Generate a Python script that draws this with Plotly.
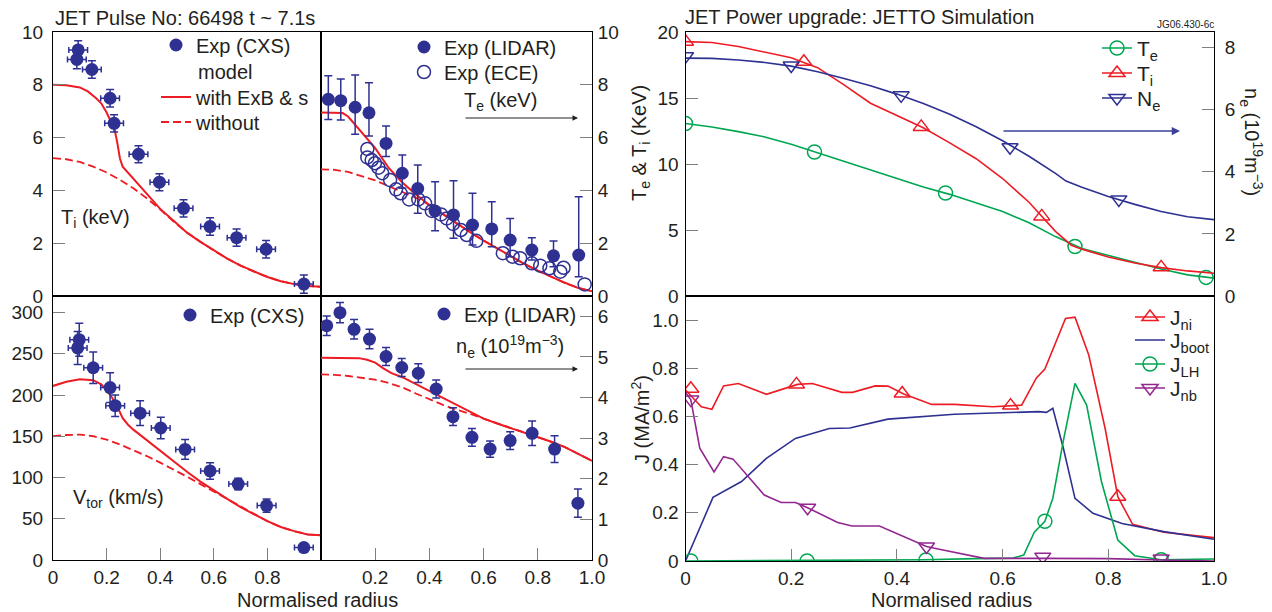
import plotly.graph_objects as go

W, H = 1272, 612
FONT = 'Liberation Sans, Arial, Helvetica, sans-serif'
INK = '#231f20'
NAVY = '#2e3192'
RED = '#ed1c24'
GREEN = '#00a651'
PURPLE = '#92278f'

# ---------------- Panel A: T_i (keV) ----------------
ti_exp_r = [0.094, 0.089, 0.145, 0.213, 0.228, 0.319, 0.397, 0.487, 0.586, 0.685, 0.795, 0.936]
ti_exp = [9.32, 8.96, 8.58, 7.49, 6.54, 5.37, 4.31, 3.32, 2.63, 2.21, 1.77, 0.45]
ti_exp_err = [0.35, 0.35, 0.33, 0.33, 0.33, 0.32, 0.32, 0.33, 0.33, 0.33, 0.33, 0.35]
ti_exp_rerr = [0.035, 0.035, 0.035, 0.035, 0.035, 0.035, 0.035, 0.035, 0.035, 0.035, 0.035, 0.035]

ti_model_r = [0, 0.05, 0.1, 0.13, 0.16, 0.18, 0.2, 0.215, 0.23, 0.24, 0.25, 0.26, 0.3, 0.35, 0.4,
              0.45, 0.5, 0.55, 0.6, 0.65, 0.7, 0.75, 0.8, 0.85, 0.9, 0.95, 1.0]
ti_with = [8.0, 7.98, 7.9, 7.75, 7.5, 7.3, 6.95, 6.65, 6.3, 5.8, 5.2, 4.9, 4.45, 3.85, 3.3,
           2.85, 2.4, 2.05, 1.72, 1.42, 1.15, 0.92, 0.72, 0.56, 0.45, 0.38, 0.35]
ti_wo_r = [0, 0.05, 0.1, 0.15, 0.2, 0.25, 0.3, 0.35, 0.4, 0.45, 0.5, 0.55, 0.6, 0.65, 0.7,
           0.75, 0.8, 0.85, 0.9, 0.95, 1.0]
ti_without = [5.22, 5.18, 5.08, 4.9, 4.68, 4.4, 4.08, 3.7, 3.28, 2.82, 2.4, 2.05, 1.72, 1.42, 1.15,
              0.92, 0.72, 0.56, 0.45, 0.38, 0.35]

# ---------------- Panel B: T_e (keV) ----------------
te_lidar_r = [0.027, 0.073, 0.126, 0.177, 0.240, 0.300, 0.357, 0.421, 0.489, 0.559, 0.630, 0.698, 0.778, 0.858, 0.951]
te_lidar = [7.45, 7.40, 7.15, 6.94, 5.78, 4.65, 4.07, 3.22, 3.07, 2.69, 2.54, 2.12, 1.74, 1.52, 1.55]
te_lidar_up = [0.89, 0.82, 1.22, 1.14, 0.66, 0.69, 0.89, 1.11, 1.30, 1.20, 1.03, 0.82, 0.47, 0.56, 2.21]
te_lidar_dn = [0.76, 0.73, 1.02, 0.88, 0.50, 0.57, 0.94, 0.75, 0.88, 0.76, 0.67, 0.63, 0.38, 0.41, 0.82]

te_ece_r = [0.171, 0.171, 0.187, 0.199, 0.212, 0.226, 0.255, 0.277, 0.294, 0.325, 0.359, 0.384, 0.409,
            0.443, 0.464, 0.487, 0.516, 0.538, 0.573, 0.671, 0.707, 0.735, 0.778, 0.809, 0.843, 0.883,
            0.895, 0.973]
te_ece = [5.57, 5.25, 5.15, 5.03, 4.86, 4.65, 4.39, 4.04, 3.89, 3.66, 3.66, 3.51, 3.22,
          3.09, 2.94, 2.73, 2.50, 2.31, 2.09, 1.62, 1.49, 1.43, 1.24, 1.15, 1.05, 0.92,
          1.07, 0.44]

te_model_r = [0, 0.05, 0.08, 0.1, 0.15, 0.2, 0.25, 0.3, 0.35, 0.4, 0.45, 0.5, 0.55, 0.6, 0.65,
              0.7, 0.75, 0.8, 0.85, 0.9, 0.95, 1.0]
te_with = [6.95, 6.95, 6.93, 6.8, 6.22, 5.6, 4.85, 4.3, 3.85, 3.45, 3.1, 2.75, 2.42, 2.1, 1.8,
           1.5, 1.22, 0.96, 0.72, 0.5, 0.3, 0.18]
te_wo_r = [0, 0.05, 0.1, 0.15, 0.2, 0.25, 0.3, 0.35, 0.4, 0.45, 0.5, 0.55, 0.6, 0.65,
           0.7, 0.75, 0.8, 0.85, 0.9, 0.95, 1.0]
te_without = [4.8, 4.78, 4.7, 4.55, 4.38, 4.16, 3.95, 3.72, 3.45, 3.1, 2.75, 2.42, 2.1, 1.8,
              1.5, 1.22, 0.96, 0.72, 0.5, 0.3, 0.18]

# ---------------- Panel C: V_tor (km/s) ----------------
v_exp_r = [0.098, 0.092, 0.150, 0.213, 0.232, 0.325, 0.402, 0.493, 0.586, 0.691, 0.797, 0.936]
v_exp = [267, 257, 233, 209, 187, 178, 160, 134, 108, 92, 66, 15]
v_exp_err = [20, 20, 19, 18, 13, 15, 13, 12, 10, 7, 8, 3]
v_exp_rerr = [0.035, 0.035, 0.035, 0.035, 0.035, 0.035, 0.035, 0.035, 0.035, 0.035, 0.035, 0.035]

v_model_r = [0, 0.05, 0.1, 0.15, 0.18, 0.2, 0.22, 0.24, 0.26, 0.28, 0.3, 0.35, 0.4, 0.45, 0.5,
             0.55, 0.6, 0.65, 0.7, 0.75, 0.8, 0.85, 0.9, 0.95, 1.0]
v_with = [211, 216, 219, 218, 213, 206, 197, 186, 172, 164, 158, 145, 133, 120, 107,
          95, 84, 74, 64, 55, 47, 40, 35, 31, 30]
v_wo_r = [0, 0.05, 0.1, 0.15, 0.2, 0.25, 0.3, 0.35, 0.4, 0.45, 0.5, 0.55, 0.6, 0.65, 0.7,
          0.75, 0.8, 0.85, 0.9, 0.95, 1.0]
v_without = [150, 151.5, 152, 150, 146, 140, 133, 126, 118, 110, 101, 92, 83, 74, 64,
             55, 47, 40, 35, 31, 30]

# ---------------- Panel D: n_e (1e19 m^-3) ----------------
ne_lidar_r = [0.021, 0.070, 0.122, 0.179, 0.240, 0.298, 0.359, 0.425, 0.487, 0.557, 0.624, 0.698, 0.779, 0.862, 0.948]
ne_lidar = [5.77, 6.09, 5.68, 5.44, 5.01, 4.74, 4.60, 4.21, 3.53, 3.02, 2.73, 2.94, 3.12, 2.73, 1.40]
ne_lidar_err = [0.24, 0.25, 0.24, 0.24, 0.22, 0.22, 0.23, 0.22, 0.22, 0.22, 0.2, 0.22, 0.3, 0.33, 0.35]

ne_model_r = [0, 0.05, 0.1, 0.14, 0.17, 0.2, 0.23, 0.26, 0.3, 0.35, 0.4, 0.45, 0.5, 0.55, 0.6,
              0.65, 0.7, 0.75, 0.8, 0.85, 0.9, 0.95, 1.0]
ne_with = [4.98, 4.98, 4.98, 4.97, 4.93, 4.86, 4.72, 4.6, 4.5, 4.33, 4.17, 4.0, 3.82, 3.64, 3.48,
           3.36, 3.25, 3.14, 3.03, 2.91, 2.78, 2.62, 2.44]
ne_wo_r = [0, 0.05, 0.1, 0.15, 0.2, 0.25, 0.3, 0.35, 0.4, 0.45, 0.5, 0.55, 0.6,
           0.65, 0.7, 0.75, 0.8, 0.85, 0.9, 0.95, 1.0]
ne_without = [4.57, 4.56, 4.53, 4.49, 4.44, 4.36, 4.25, 4.1, 3.95, 3.82, 3.7, 3.6, 3.48,
              3.36, 3.25, 3.14, 3.03, 2.91, 2.78, 2.62, 2.44]

# ---------------- Panel E: JETTO profiles ----------------
sim_ti_r = [0, 0.05, 0.1, 0.15, 0.2, 0.25, 0.3, 0.35, 0.4, 0.45, 0.5, 0.55, 0.6, 0.65, 0.7,
            0.73, 0.75, 0.8, 0.85, 0.9, 0.95, 1.0]
sim_ti = [19.27, 19.2, 18.9, 18.5, 18.05, 17.3, 16.0, 14.6, 13.7, 12.75, 11.6, 10.4, 8.9, 7.1, 4.9,
          3.85, 3.55, 2.95, 2.5, 2.15, 1.9, 1.72]
sim_ti_mark_r = [0.0, 0.224, 0.446, 0.674, 0.9]
sim_ti_mark = [19.27, 17.75, 12.81, 6.03, 2.17]

sim_te_r = [0, 0.05, 0.1, 0.15, 0.2, 0.25, 0.3, 0.35, 0.4, 0.45, 0.5, 0.55, 0.6, 0.65, 0.7,
            0.75, 0.8, 0.85, 0.9, 0.95, 1.0]
sim_te = [13.07, 12.8, 12.45, 12.05, 11.5, 10.85, 10.2, 9.55, 8.9, 8.25, 7.7, 7.05, 6.4, 5.55, 4.5,
          3.6, 3.05, 2.55, 2.05, 1.6, 1.35]
sim_te_mark_r = [0.0, 0.244, 0.492, 0.737, 0.985]
sim_te_mark = [13.07, 10.91, 7.8, 3.75, 1.41]

sim_ne_r = [0, 0.05, 0.1, 0.15, 0.2, 0.25, 0.3, 0.35, 0.4, 0.45, 0.5, 0.55, 0.6, 0.65, 0.7,
            0.72, 0.75, 0.8, 0.85, 0.9, 0.95, 1.0]
sim_ne = [7.66, 7.65, 7.6, 7.52, 7.4, 7.22, 7.0, 6.77, 6.5, 6.2, 5.85, 5.45, 5.0, 4.5, 3.95,
          3.7, 3.5, 3.2, 2.95, 2.72, 2.55, 2.46]
sim_ne_mark_r = [0.0, 0.2, 0.408, 0.614, 0.82]
sim_ne_mark = [7.72, 7.42, 6.46, 4.79, 3.11]

# ---------------- Panel F: current densities ----------------
jni_r = [0, 0.03, 0.05, 0.072, 0.10, 0.153, 0.212, 0.24, 0.296, 0.316, 0.359, 0.383, 0.413, 0.466,
         0.509, 0.581, 0.636, 0.664, 0.68, 0.719, 0.737, 0.763, 0.794, 0.818, 0.846, 0.905, 1.0]
jni = [0.71, 0.64, 0.63, 0.727, 0.737, 0.692, 0.733, 0.737, 0.70, 0.70, 0.727, 0.726, 0.693, 0.65,
       0.65, 0.64, 0.647, 0.76, 0.797, 1.007, 1.012, 0.855, 0.55, 0.267, 0.152, 0.119, 0.097]
jni_mark_r = [0.01, 0.21, 0.41, 0.615, 0.818]
jni_mark = [0.715, 0.733, 0.695, 0.645, 0.267]

jboot_r = [0, 0.052, 0.106, 0.153, 0.208, 0.272, 0.311, 0.383, 0.509, 0.668, 0.683, 0.695, 0.715,
           0.737, 0.771, 0.826, 0.905, 1.0]
jboot = [0, 0.264, 0.33, 0.426, 0.509, 0.55, 0.552, 0.589, 0.609, 0.62, 0.617, 0.634, 0.468,
         0.26, 0.198, 0.156, 0.122, 0.09]

jlh_r = [0, 0.40, 0.45, 0.55, 0.62, 0.64, 0.66, 0.68, 0.695, 0.715, 0.737, 0.759, 0.787, 0.818,
         0.85, 0.9, 1.0]
jlh = [0, 0.002, 0.005, 0.01, 0.012, 0.025, 0.12, 0.165, 0.26, 0.5, 0.737, 0.647, 0.33, 0.087,
       0.022, 0.005, 0.008]
jlh_mark_r = [0.01, 0.23, 0.455, 0.68, 0.9]
jlh_mark = [0, 0, 0.004, 0.165, 0.005]

jnb_r = [0, 0.01, 0.027, 0.054, 0.072, 0.09, 0.149, 0.181, 0.208, 0.231, 0.288, 0.315, 0.367,
         0.456, 0.478, 0.565, 0.676, 0.8, 0.9, 1.0]
jnb = [0.70, 0.67, 0.468, 0.37, 0.433, 0.423, 0.274, 0.243, 0.243, 0.221, 0.16, 0.145, 0.145,
       0.06, 0.05, 0.011, 0.011, 0.01, 0.004, 0.0]
jnb_mark_r = [0.01, 0.231, 0.456, 0.676, 0.9]
jnb_mark = [0.67, 0.221, 0.06, 0.018, 0.01]

# ---------------- figure ----------------
fig = go.Figure()

def model_lines(xr_with, y_with, xr_wo, y_wo, xa, ya, show=False):
    fig.add_trace(go.Scatter(x=xr_wo, y=y_wo, mode='lines', name='without',
                             line=dict(color=RED, width=1.8, dash='8px,4px'),
                             xaxis=xa, yaxis=ya, showlegend=show, legend='legend3'))
    fig.add_trace(go.Scatter(x=xr_with, y=y_with, mode='lines', name='with ExB & s',
                             line=dict(color=RED, width=2), xaxis=xa, yaxis=ya,
                             showlegend=show, legend='legend2'))

# Panel A
model_lines(ti_model_r, ti_with, ti_wo_r, ti_without, 'x', 'y', show=True)
fig.add_trace(go.Scatter(x=ti_exp_r, y=ti_exp, mode='markers', name='Exp (CXS)',
                         marker=dict(color=NAVY, size=13),
                         error_y=dict(type='data', array=ti_exp_err, color=NAVY, thickness=1.5, width=4),
                         error_x=dict(type='data', array=ti_exp_rerr, color=NAVY, thickness=1.5, width=3),
                         xaxis='x', yaxis='y', legend='legend'))
# Panel B
model_lines(te_model_r, te_with, te_wo_r, te_without, 'x2', 'y2')
fig.add_trace(go.Scatter(x=te_ece_r, y=te_ece, mode='markers', name='Exp (ECE)',
                         marker=dict(color=NAVY, size=13, symbol='circle-open', line=dict(width=1.5)),
                         xaxis='x2', yaxis='y2', legend='legend5'))
fig.add_trace(go.Scatter(x=te_lidar_r, y=te_lidar, mode='markers', name='Exp (LIDAR)',
                         marker=dict(color=NAVY, size=13),
                         error_y=dict(type='data', symmetric=False, array=te_lidar_up, arrayminus=te_lidar_dn,
                                      color=NAVY, thickness=1.5, width=4),
                         xaxis='x2', yaxis='y2', legend='legend4'))
# Panel C
model_lines(v_model_r, v_with, v_wo_r, v_without, 'x3', 'y3')
fig.add_trace(go.Scatter(x=v_exp_r, y=v_exp, mode='markers', name='Exp (CXS)',
                         marker=dict(color=NAVY, size=13),
                         error_y=dict(type='data', array=v_exp_err, color=NAVY, thickness=1.5, width=4),
                         error_x=dict(type='data', array=v_exp_rerr, color=NAVY, thickness=1.5, width=3),
                         xaxis='x3', yaxis='y3', legend='legend6'))
# Panel D
model_lines(ne_model_r, ne_with, ne_wo_r, ne_without, 'x4', 'y4')
fig.add_trace(go.Scatter(x=ne_lidar_r, y=ne_lidar, mode='markers', name='Exp (LIDAR)',
                         marker=dict(color=NAVY, size=13),
                         error_y=dict(type='data', array=ne_lidar_err, color=NAVY, thickness=1.5, width=4),
                         xaxis='x4', yaxis='y4', legend='legend7'))

# Panel E / F helper
def sim_series(xr, yv, mr, mv, color, symbol, name, xa, ya, leg, lw=1.6):
    fig.add_trace(go.Scatter(x=xr, y=yv, mode='lines', line=dict(color=color, width=lw),
                             xaxis=xa, yaxis=ya, showlegend=False))
    if mr is not None:
        fig.add_trace(go.Scatter(x=mr, y=mv, mode='markers',
                                 marker=dict(color=color, size=14, symbol=symbol, line=dict(width=1.5, color=color)),
                                 xaxis=xa, yaxis=ya, showlegend=False))
    # legend entry
    fig.add_trace(go.Scatter(x=[None], y=[None], mode='lines+markers' if mr is not None else 'lines',
                             name=name, line=dict(color=color, width=lw),
                             marker=dict(color=color, size=14, symbol=symbol, line=dict(width=1.5, color=color)),
                             xaxis=xa, yaxis=ya, legend=leg))

sim_series(sim_te_r, sim_te, sim_te_mark_r, sim_te_mark, GREEN, 'circle-open', 'T<sub>e</sub>', 'x5', 'y5', 'legend8')
sim_series(sim_ti_r, sim_ti, sim_ti_mark_r, sim_ti_mark, RED, 'triangle-up-open', 'T<sub>i</sub>', 'x5', 'y5', 'legend9')
sim_series(sim_ne_r, sim_ne, sim_ne_mark_r, sim_ne_mark, NAVY, 'triangle-down-open', 'N<sub>e</sub>', 'x5', 'y6', 'legend10')

sim_series(jni_r, jni, jni_mark_r, jni_mark, RED, 'triangle-up-open', 'J<sub>ni</sub>', 'x6', 'y7', 'legend11')
sim_series(jboot_r, jboot, None, None, NAVY, 'circle', 'J<sub>boot</sub>', 'x6', 'y7', 'legend12')
sim_series(jlh_r, jlh, jlh_mark_r, jlh_mark, GREEN, 'circle-open', 'J<sub>LH</sub>', 'x6', 'y7', 'legend13')
sim_series(jnb_r, jnb, jnb_mark_r, jnb_mark, PURPLE, 'triangle-down-open', 'J<sub>nb</sub>', 'x6', 'y7', 'legend14')

# ---------------- axes ----------------
tick_font = dict(family=FONT, size=19, color=INK)
base = dict(showline=True, linecolor='black', linewidth=1, mirror=True, showgrid=False,
            zeroline=False, ticks='inside', tickcolor='#7f7f7f', ticklen=12, tickwidth=1.2,
            tickfont=tick_font)

def dom_x(a, b):
    return [a / W, b / W]

def dom_y(top, bottom):
    return [1 - bottom / H, 1 - top / H]

TOP = dom_y(32, 296)
BOT = dom_y(296, 560)
XL = dom_x(53, 321)
XM = dom_x(321, 592)
XR = dom_x(685.5, 1214)

noticks = dict(ticks='', showticklabels=False)

layout_axes = dict(
    xaxis=dict(base, domain=XL, range=[0, 1], anchor='y', **noticks),
    yaxis=dict(base, domain=TOP, range=[0, 10], anchor='x', tickvals=[0, 2, 4, 6, 8, 10],
               ticklabelstandoff=5),
    xaxis2=dict(base, domain=XM, range=[0, 1], anchor='y2', **noticks),
    yaxis2=dict(base, domain=TOP, range=[0, 10], anchor='x2', side='right',
                tickvals=[0, 2, 4, 6, 8, 10], ticklabelstandoff=1),
    xaxis3=dict(base, domain=XL, range=[0, 1], anchor='y3', tickvals=[0, 0.2, 0.4, 0.6, 0.8],
                ticktext=['0', '0.2', '0.4', '0.6', '0.8']),
    yaxis3=dict(base, domain=BOT, range=[0, 320], anchor='x3',
                tickvals=[0, 50, 100, 150, 200, 250, 300], ticklabelstandoff=5),
    xaxis4=dict(base, domain=XM, range=[0, 1], anchor='y4', tickvals=[0.2, 0.4, 0.6, 0.8, 1.0],
                ticktext=['0.2', '0.4', '0.6', '0.8', '1.0']),
    yaxis4=dict(base, domain=BOT, range=[0, 6.5], anchor='x4', side='right',
                tickvals=[0, 1, 2, 3, 4, 5, 6], ticklabelstandoff=1),
    xaxis5=dict(base, domain=XR, range=[0, 1], anchor='y5', **noticks),
    yaxis5=dict(base, domain=TOP, range=[0, 20], anchor='x5', tickvals=[0, 5, 10, 15, 20],
                ticklabelstandoff=2),
    yaxis6=dict(base, range=[0, 8.5], anchor='x5', overlaying='y5', side='right', mirror=False,
                tickvals=[0, 2, 4, 6, 8], ticklabelstandoff=6),
    xaxis6=dict(base, domain=XR, range=[0, 1], anchor='y7', tickvals=[0, 0.2, 0.4, 0.6, 0.8, 1.0],
                ticktext=['0', '0.2', '0.4', '0.6', '0.8', '1.0']),
    yaxis7=dict(base, domain=dom_y(296, 561), range=[0, 1.1], anchor='x6',
                tickvals=[0, 0.2, 0.4, 0.6, 0.8, 1.0], ticktext=['0', '0.2', '0.4', '0.6', '0.8', '1.0'],
                ticklabelstandoff=2),
)

# ---------------- legends (one per row for exact spacing) ----------------
def leg(left, center, fs):
    h = max(1.3 * fs, 16) + 3
    top = center - 5 - h / 2
    return dict(x=left / W, y=1 - top / H, xanchor='left', yanchor='top', xref='paper', yref='paper',
                bgcolor='rgba(0,0,0,0)', borderwidth=0,
                font=dict(family=FONT, size=fs, color=INK))

legends = dict(
    legend=leg(156, 45, 20), legend2=leg(156, 97, 20), legend3=leg(156, 122, 20),
    legend4=leg(404, 47, 20), legend5=leg(404, 72, 20),
    legend6=leg(170, 315, 20), legend7=leg(424, 314, 20),
    legend8=leg(1097, 48, 21), legend9=leg(1097, 73, 21), legend10=leg(1097, 98, 21),
    legend11=leg(1130, 317, 21), legend12=leg(1130, 340, 21), legend13=leg(1130, 364, 21),
    legend14=leg(1130, 388, 21),
)

# ---------------- annotations ----------------
def txt(text, x, y, size=20, xanchor='left', angle=0, color=INK):
    return dict(text=text, x=x / W, y=1 - y / H, xref='paper', yref='paper', showarrow=False,
                xanchor=xanchor, yanchor='middle', textangle=angle,
                font=dict(family=FONT, size=size, color=color))

def arrow(x0, x1, y, color=INK, width=1):
    return dict(text='', x=x1 / W, y=1 - y / H, xref='paper', yref='paper', showarrow=True,
                ax=x0 - x1, ay=0, axref='pixel', ayref='pixel', arrowhead=2, arrowsize=1.1,
                arrowwidth=width, arrowcolor=color, standoff=0, startstandoff=0)

annotations = [
    txt('JET Pulse No: 66498 t ~ 7.1s', 53, 18),
    txt('model', 196, 72),
    txt('T<sub>i</sub> (keV)', 59, 218),
    txt('T<sub>e</sub> (keV)', 462, 102),
    arrow(464, 578, 118),
    txt('V<sub>tor</sub> (km/s)', 71, 498),
    txt('n<sub>e</sub> (10<sup>19</sup>m<sup>−3</sup>)', 454, 346),
    arrow(464, 578, 369),
    txt('Normalised radius', 317, 600, xanchor='center'),
    txt('JET Power upgrade: JETTO Simulation', 683, 17),
    txt('JG06.430-6c', 1216, 25, size=10, xanchor='right'),
    txt('T<sub>e</sub> & T<sub>i</sub> (KeV)', 640, 143, xanchor='center', angle=-90),
    txt('n<sub>e</sub> (10<sup>19</sup>m<sup>−3</sup>)', 1252, 142, xanchor='center', angle=90),
    arrow(1002, 1180, 131, color='#3b4199', width=1.5),
    txt('J (MA/m<sup>2</sup>)', 640, 420, xanchor='center', angle=-90),
    txt('Normalised radius', 951, 600, xanchor='center'),
]

fig.update_layout(
    width=W, height=H, margin=dict(l=0, r=0, t=0, b=0, autoexpand=False),
    paper_bgcolor='white', plot_bgcolor='white',
    font=dict(family=FONT, size=20, color=INK),
    annotations=annotations,
    **layout_axes, **legends,
)

fig.write_html('out.html')
